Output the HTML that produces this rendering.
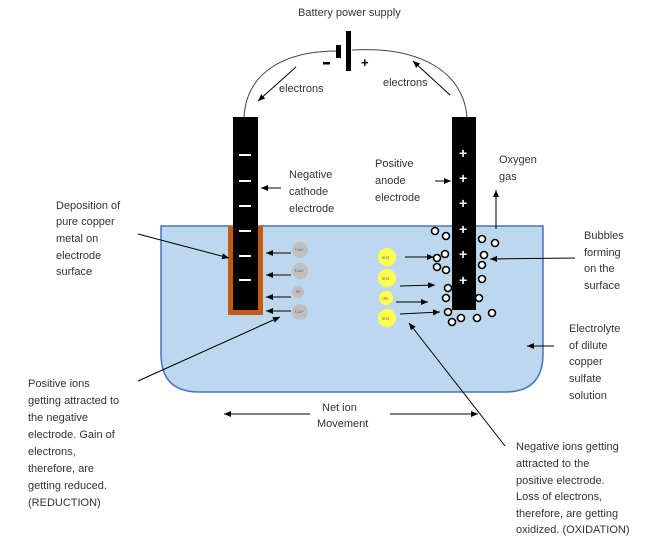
<!DOCTYPE html>
<html><head><style>
html,body{margin:0;padding:0;background:#fff;}
svg{display:block;}
text{font-family:"Liberation Sans",sans-serif;font-size:11px;fill:#333;}
.t{font-family:"Liberation Serif",serif;font-size:4px;fill:#555;}
</style></head><body>
<svg width="649" height="536" viewBox="0 0 649 536" xmlns="http://www.w3.org/2000/svg">
<defs>
<marker id="a" markerWidth="8" markerHeight="8" refX="7" refY="4" orient="auto" markerUnits="userSpaceOnUse">
<path d="M0,1 L7,4 L0,7 Z" fill="#000"/></marker>
</defs>
<path d="M161,226 H543 V354 Q543,392 505,392 H199 Q161,392 161,354 Z" fill="#bdd7ee" stroke="#4a74b8" stroke-width="1.5"/>
<path d="M244,118 C246,72 285,51 337,51" fill="none" stroke="#444" stroke-width="1"/>
<path d="M352,50 C420,46 464,72 467,118" fill="none" stroke="#444" stroke-width="1"/>
<rect x="336" y="45" width="5" height="13" fill="#000"/>
<rect x="346" y="31" width="5" height="40" fill="#000"/>
<rect x="323" y="62" width="7" height="2.5" fill="#000"/>
<text x="361" y="67" style="font-size:13px;font-weight:bold;fill:#000">+</text>
<text x="298" y="16">Battery power supply</text>
<line x1="296" y1="67" x2="258" y2="101" stroke="#000" marker-end="url(#a)"/>
<text x="279" y="92">electrons</text>
<line x1="450" y1="95" x2="413" y2="61" stroke="#000" marker-end="url(#a)"/>
<text x="383" y="86">electrons</text>
<rect x="228" y="226" width="35" height="89" fill="#c55a11"/>
<rect x="233" y="117" width="25" height="193" fill="#000"/>
<g fill="#fff">
<rect x="239" y="154" width="12" height="2"/><rect x="239" y="180" width="12" height="2"/>
<rect x="239" y="205" width="12" height="2"/><rect x="239" y="230" width="12" height="2"/>
<rect x="239" y="255" width="12" height="2"/><rect x="239" y="279" width="12" height="2"/>
</g>
<rect x="452" y="117" width="24" height="193" fill="#000"/>
<text x="459" y="158" style="fill:#fff;font-size:14px;font-weight:bold">+</text>
<text x="459" y="183" style="fill:#fff;font-size:14px;font-weight:bold">+</text>
<text x="459" y="208" style="fill:#fff;font-size:14px;font-weight:bold">+</text>
<text x="459" y="234" style="fill:#fff;font-size:14px;font-weight:bold">+</text>
<text x="459" y="259" style="fill:#fff;font-size:14px;font-weight:bold">+</text>
<text x="459" y="285" style="fill:#fff;font-size:14px;font-weight:bold">+</text>
<g fill="#bfbfbf">
<circle cx="300" cy="250" r="8"/><circle cx="300" cy="271" r="8"/><circle cx="298" cy="292" r="6"/><circle cx="300" cy="312" r="8"/>
</g>
<text class="t" x="295" y="251">Cu2+</text><text class="t" x="295" y="272">Cu2+</text><text class="t" x="296" y="293">H+</text><text class="t" x="295" y="313">Cu2+</text>
<g stroke="#000">
<line x1="291" y1="253" x2="266" y2="253" marker-end="url(#a)"/>
<line x1="291" y1="275" x2="266" y2="275" marker-end="url(#a)"/>
<line x1="291" y1="297" x2="266" y2="297" marker-end="url(#a)"/>
<line x1="291" y1="311" x2="266" y2="311" marker-end="url(#a)"/>
</g>
<g fill="#ffff4d">
<circle cx="387" cy="257" r="9"/><circle cx="387" cy="278" r="9"/><circle cx="386" cy="298" r="7"/><circle cx="387" cy="318" r="9"/>
</g>
<text class="t" x="382" y="259">SO4</text><text class="t" x="382" y="280">SO4</text><text class="t" x="382" y="300">OH-</text><text class="t" x="382" y="320">SO4</text>
<g stroke="#000">
<line x1="405" y1="257" x2="434" y2="257" marker-end="url(#a)"/>
<line x1="400" y1="286" x2="435" y2="285" marker-end="url(#a)"/>
<line x1="396" y1="302" x2="428" y2="302" marker-end="url(#a)"/>
<line x1="400" y1="314" x2="440" y2="312" marker-end="url(#a)"/>
</g>
<g fill="#fff" stroke="#000" stroke-width="1.6">
<circle cx="435" cy="231" r="3.5"/><circle cx="446" cy="236" r="3.5"/><circle cx="482" cy="239" r="3.5"/><circle cx="495" cy="243" r="3.5"/>
<circle cx="437" cy="258" r="3.5"/><circle cx="445" cy="254" r="3.5"/><circle cx="484" cy="255" r="3.5"/>
<circle cx="437" cy="267" r="3.5"/><circle cx="446" cy="270" r="3.5"/><circle cx="482" cy="265" r="3.5"/>
<circle cx="482" cy="279" r="3.5"/><circle cx="448" cy="288" r="3.5"/><circle cx="446" cy="298" r="3.5"/><circle cx="479" cy="298" r="3.5"/>
<circle cx="448" cy="312" r="3.5"/><circle cx="452" cy="322" r="3.5"/><circle cx="461" cy="318" r="3.5"/><circle cx="477" cy="318" r="3.5"/><circle cx="492" cy="313" r="3.5"/>
</g>
<line x1="281" y1="188" x2="261" y2="188" stroke="#000" marker-end="url(#a)"/>
<text x="289" y="178">Negative</text><text x="289" y="195">cathode</text><text x="289" y="212">electrode</text>
<line x1="435" y1="181" x2="451" y2="181" stroke="#000" marker-end="url(#a)"/>
<text x="375" y="167">Positive</text><text x="375" y="184">anode</text><text x="375" y="201">electrode</text>
<line x1="496" y1="229" x2="496" y2="190" stroke="#000" marker-end="url(#a)"/>
<text x="499" y="163">Oxygen</text><text x="499" y="180">gas</text>
<line x1="575" y1="258" x2="490" y2="259" stroke="#000" marker-end="url(#a)"/>
<text x="584" y="239">Bubbles</text><text x="584" y="256">forming</text><text x="584" y="272">on the</text><text x="584" y="289">surface</text>
<line x1="554" y1="346" x2="527" y2="346" stroke="#000" marker-end="url(#a)"/>
<text x="569" y="332">Electrolyte</text><text x="569" y="349">of dilute</text><text x="569" y="365">copper</text><text x="569" y="382">sulfate</text><text x="569" y="399">solution</text>
<line x1="138" y1="234" x2="229" y2="258" stroke="#000" marker-end="url(#a)"/>
<text x="56" y="209">Deposition of</text><text x="56" y="225">pure copper</text><text x="56" y="242">metal on</text><text x="56" y="259">electrode</text><text x="56" y="275">surface</text>
<line x1="138" y1="381" x2="280" y2="317" stroke="#000" marker-end="url(#a)"/>
<text x="28" y="387">Positive ions</text><text x="28" y="404">getting attracted to</text><text x="28" y="421">the negative</text><text x="28" y="438">electrode. Gain of</text><text x="28" y="455">electrons,</text><text x="28" y="472">therefore, are</text><text x="28" y="489">getting reduced.</text><text x="28" y="506">(REDUCTION)</text>
<line x1="505" y1="446" x2="409" y2="323" stroke="#000" marker-end="url(#a)"/>
<text x="516" y="450">Negative ions getting</text><text x="516" y="467">attracted to the</text><text x="516" y="484">positive electrode.</text><text x="516" y="500">Loss of electrons,</text><text x="516" y="517">therefore, are getting</text><text x="516" y="533">oxidized. (OXIDATION)</text>
<line x1="310" y1="414" x2="224" y2="414" stroke="#000" marker-end="url(#a)"/>
<line x1="390" y1="414" x2="478" y2="414" stroke="#000" marker-end="url(#a)"/>
<text x="322" y="411">Net ion</text><text x="317" y="427">Movement</text>
</svg>
</body></html>
